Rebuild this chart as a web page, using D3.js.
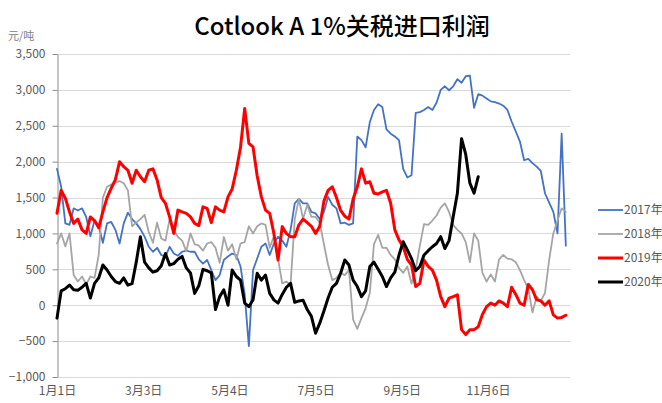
<!DOCTYPE html>
<html>
<head>
<meta charset="utf-8">
<script src="https://cdn.jsdelivr.net/npm/d3@7"></script>
<style>
  html, body { margin: 0; padding: 0; background: #fff; }
  svg { display: block; }
  text { font-family: "Noto Sans CJK SC", "Noto Sans", sans-serif; }
</style>
</head>
<body>
<svg id="chart" width="662" height="403"></svg>
<script>
// ---- data ----
const title = "Cotlook A 1%关税进口利润";
const unitLabel = "元/吨";
const dayStep = 3;                      // category spacing (days since 1月1日)
const days = d3.range(0, 367, dayStep); // category axis
const xTickDays = [0, 62, 124, 186, 248, 310];
const xTickLabels = ["1月1日", "3月3日", "5月4日", "7月5日", "9月5日", "11月6日"];
const yTicks = [-1000, -500, 0, 500, 1000, 1500, 2000, 2500, 3000, 3500];
const seriesNames = ["2017年", "2018年", "2019年", "2020年"];

const v2017 = [1900,1650,1140,1120,1350,1320,1350,1230,960,1180,
  1100,870,1140,1160,1050,860,1140,1290,1200,1140,
  1060,955,815,745,800,700,676,815,720,690,
  745,760,745,745,640,580,630,490,350,420,
  630,680,720,700,540,150,-570,490,650,815,
  860,700,860,955,900,815,1050,1420,1480,1420,
  1420,1300,1280,1200,1300,1510,1400,1350,1140,1150,
  1120,1140,2350,2300,2200,2550,2720,2800,2760,2450,
  2390,2350,2300,1900,1780,1810,2680,2690,2720,2760,
  2720,2820,3000,3050,2995,3050,3150,3100,3190,3200,
  2750,2940,2920,2880,2840,2830,2810,2780,2720,2560,
  2420,2280,2020,2040,1980,1930,1870,1560,1430,1300,
  1000,2390,830];

const v2018 = [860,1000,820,1000,420,330,400,290,400,380,
  700,1500,1650,1680,1710,1730,1700,1600,1100,1150,
  1200,1260,1020,870,1150,930,900,1200,1050,950,
  900,750,1000,850,830,760,860,880,800,590,
  950,760,850,640,860,880,1100,1000,1100,1140,
  1120,800,960,650,305,330,280,1200,1480,1200,
  1400,1230,1230,1150,850,560,350,380,450,420,
  490,-200,-330,-180,-40,170,850,980,800,800,
  700,640,520,450,540,300,500,830,1130,1120,
  1180,1250,1360,1420,1300,1120,1050,1000,880,600,
  1000,900,450,330,430,330,640,700,650,640,
  600,490,350,230,-100,120,60,170,630,1000,
  1180,1350,1300];

const v2019 = [1280,1600,1490,1300,1140,1200,1050,1000,1230,1180,
  1080,1300,1500,1630,1750,2000,1930,1880,1700,1880,
  1790,1720,1880,1900,1745,1500,1420,1230,1000,1325,
  1300,1280,1230,1140,1110,1370,1350,1150,1370,1325,
  1300,1510,1620,1880,2200,2740,2255,2205,1800,1510,
  1325,1280,1000,630,1095,1000,955,955,1120,1200,
  1150,1100,1000,1100,1450,1600,1650,1500,1320,1240,
  1200,1480,1650,1900,1700,1720,1560,1550,1580,1600,
  1420,1050,910,815,640,560,260,305,630,540,
  490,350,120,-20,100,120,145,-340,-410,-340,
  -340,-300,-130,-20,30,0,60,30,-20,250,
  150,30,0,290,215,75,60,0,60,-135,
  -180,-170,-140];

const v2020 = [-180,200,230,280,215,210,250,305,100,305,
  380,560,490,400,330,305,380,280,300,600,
  955,600,520,460,480,550,720,560,580,640,
  680,520,450,165,270,500,480,450,-60,120,
  215,0,490,400,350,30,-20,75,445,350,
  420,165,75,30,150,250,305,40,60,70,
  -60,-155,-390,-250,-80,100,250,305,445,630,
  560,350,260,120,200,540,600,500,400,260,
  380,460,700,885,770,650,480,540,700,760,
  815,860,955,790,900,1235,1560,2320,2100,1700,
  1560,1790];

const seriesValues = [v2017, v2018, v2019, v2020];
const seriesColors = ["#4472C4", "#A5A5A5", "#FF0000", "#000000"];
const seriesWidths = [1.8, 1.8, 3, 3];

// ---- layout ----
const svg = d3.select("#chart");
const plot = { left: 57, right: 570, top: 54, bottom: 377 };

const x = d3.scaleLinear().domain([0, 369]).range([plot.left, plot.right]);
const y = d3.scaleLinear().domain([-1000, 3500]).range([plot.bottom, plot.top]);

// title
svg.append("text")
  .attr("x", 342).attr("y", 35)
  .attr("text-anchor", "middle")
  .attr("font-size", 24)
  .attr("font-weight", 500)
  .attr("fill", "#000")
  .text(title);

// unit
svg.append("text")
  .attr("x", 8).attr("y", 40)
  .attr("font-size", 11)
  .attr("fill", "#808080")
  .text(unitLabel);

// gridlines
svg.append("g")
  .selectAll("line")
  .data(yTicks)
  .join("line")
  .attr("x1", plot.left).attr("x2", plot.right)
  .attr("y1", d => Math.round(y(d)) + 0.5).attr("y2", d => Math.round(y(d)) + 0.5)
  .attr("stroke", "#d9d9d9").attr("stroke-width", 1);

// y axis
const yAxis = d3.axisLeft(y)
  .tickValues(yTicks)
  .tickFormat(d3.format(","))
  .tickSizeInner(5).tickSizeOuter(0).tickPadding(7);
const gy = svg.append("g")
  .attr("transform", `translate(${plot.left + 0.5},0)`)
  .call(yAxis);
gy.select(".domain").attr("stroke", "#8c8c8c");
gy.selectAll(".tick line").attr("stroke", "#8c8c8c");
gy.selectAll(".tick text")
  .attr("font-size", 12)
  .attr("fill", "#595959")
  .style("font-family", "'Noto Sans CJK SC', sans-serif");

// x axis labels
const xAxis = d3.axisBottom(x)
  .tickValues(xTickDays)
  .tickFormat((d, i) => xTickLabels[i])
  .tickSize(0).tickPadding(9);
const gx = svg.append("g")
  .attr("transform", `translate(0,${plot.bottom})`)
  .call(xAxis);
gx.select(".domain").remove();
gx.selectAll(".tick text")
  .attr("font-size", 12)
  .attr("fill", "#595959")
  .style("font-family", "'Noto Sans CJK SC', sans-serif");

// lines
const lineGen = d3.line()
  .x((d, i) => x(days[i]))
  .y(d => y(d));

svg.append("g")
  .selectAll("path")
  .data(seriesValues)
  .join("path")
  .attr("d", d => lineGen(d))
  .attr("fill", "none")
  .attr("stroke", (d, i) => seriesColors[i])
  .attr("stroke-width", (d, i) => seriesWidths[i])
  .attr("stroke-linejoin", "round")
  .attr("stroke-linecap", "round");

// legend
const legendY = [210, 234, 258, 282];
const lg = svg.append("g");
seriesNames.forEach((name, i) => {
  lg.append("line")
    .attr("x1", 598).attr("x2", 623)
    .attr("y1", legendY[i]).attr("y2", legendY[i])
    .attr("stroke", seriesColors[i])
    .attr("stroke-width", seriesWidths[i]);
  lg.append("text")
    .attr("x", 624).attr("y", legendY[i] + 4)
    .attr("font-size", 12)
    .attr("fill", "#595959")
    .text(name);
});
</script>
</body>
</html>
